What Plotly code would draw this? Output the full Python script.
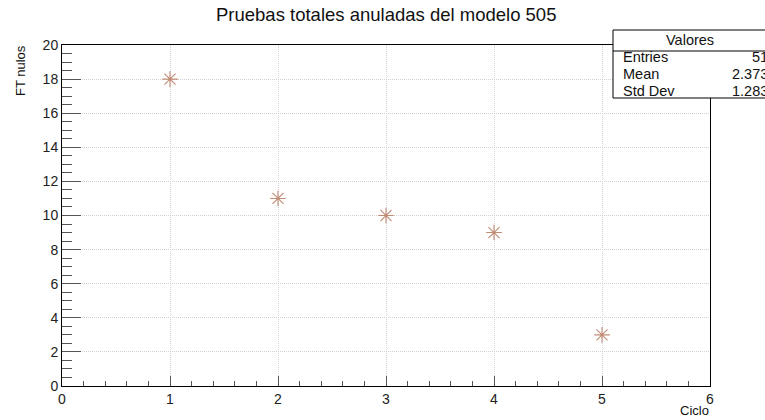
import plotly.graph_objects as go

ciclo = [1, 2, 3, 4, 5]
ft_nulos = [18, 11, 10, 9, 3]
x_ticks = [0, 1, 2, 3, 4, 5, 6]
y_ticks = [0, 2, 4, 6, 8, 10, 12, 14, 16, 18, 20]
stats_labels = ["Entries", "Mean", "Std Dev"]
stats_values = ["51", "2.373", "1.283"]

W, H = 765, 420
L, R, T, B = 62, 55, 45, 34
pw, ph = W - L - R, H - T - B

def px(xp):
    return (xp - L) / pw

def py(yp):
    return (H - B - yp) / ph

fig = go.Figure()
fig.add_trace(go.Scatter(
    x=ciclo, y=ft_nulos, mode="markers",
    marker=dict(symbol="asterisk-open", size=13, color="#c08a74",
                line=dict(color="#c08a74", width=1.1)),
    showlegend=False, cliponaxis=False,
))

font = "Liberation Sans, Arial, sans-serif"
axis_common = dict(
    showline=True, linecolor="#000000", linewidth=1, mirror=True,
    showgrid=True, gridcolor="#d2d2d2", griddash="1px,1px", gridwidth=1,
    zeroline=False, ticks="inside", tickcolor="#555555",
    tickfont=dict(family=font, size=14, color="#222222"),
)

fig.update_layout(
    width=W, height=H,
    margin=dict(l=L, r=R, t=T, b=B),
    paper_bgcolor="white", plot_bgcolor="white",
    font=dict(family=font),
    xaxis=dict(range=[0, 6], tickvals=x_ticks, ticktext=[str(v) for v in x_ticks],
               ticklen=10, tickwidth=1.3,
               minor=dict(dtick=0.2, ticklen=5, tickcolor="#555555", ticks="inside", showgrid=False),
               **axis_common),
    yaxis=dict(range=[0, 20], tickvals=y_ticks, ticktext=[str(v) for v in y_ticks],
               ticklen=19, tickwidth=1.3,
               minor=dict(dtick=0.5, ticklen=9.5, tickcolor="#555555", ticks="inside", showgrid=False),
               **axis_common),
)

annotations = [
    dict(text="Pruebas totales anuladas del modelo 505", xref="paper", yref="paper",
         x=px(386), y=py(14), xanchor="center", yanchor="middle", showarrow=False,
         font=dict(family=font, size=18.5, color="#111111")),
    dict(text="FT nulos", xref="paper", yref="paper", x=px(20), y=py(71),
         xanchor="center", yanchor="middle", textangle=-90, showarrow=False,
         font=dict(family=font, size=13, color="#111111")),
    dict(text="Ciclo", xref="paper", yref="paper", x=px(711), y=py(410),
         xanchor="right", yanchor="middle", showarrow=False,
         font=dict(family=font, size=13, color="#111111")),
]

# stats box
bx0, bx1, by0, by1, bsep = 613, 775, 30, 98, 51
shapes = [
    dict(type="rect", xref="paper", yref="paper", x0=px(bx0), x1=px(bx1), y0=py(by1), y1=py(by0),
         line=dict(color="#000000", width=1), fillcolor="white", layer="above"),
    dict(type="line", xref="paper", yref="paper", x0=px(bx0), x1=px(bx1), y0=py(bsep), y1=py(bsep),
         line=dict(color="#000000", width=1), layer="above"),
]
annotations.append(dict(text="Valores", xref="paper", yref="paper", x=px(690), y=py(40),
                        xanchor="center", yanchor="middle", showarrow=False,
                        font=dict(family=font, size=14.5, color="#111111")))
rows_y = [57, 74, 91]
for lab, val, yy in zip(stats_labels, stats_values, rows_y):
    annotations.append(dict(text=lab, xref="paper", yref="paper", x=px(621), y=py(yy),
                            xanchor="left", yanchor="middle", showarrow=False,
                            font=dict(family=font, size=14.5, color="#111111")))
    annotations.append(dict(text=val, xref="paper", yref="paper", x=px(770), y=py(yy),
                            xanchor="right", yanchor="middle", showarrow=False,
                            font=dict(family=font, size=14.5, color="#111111")))

fig.update_layout(annotations=annotations, shapes=shapes)
fig.write_html("out.html")
